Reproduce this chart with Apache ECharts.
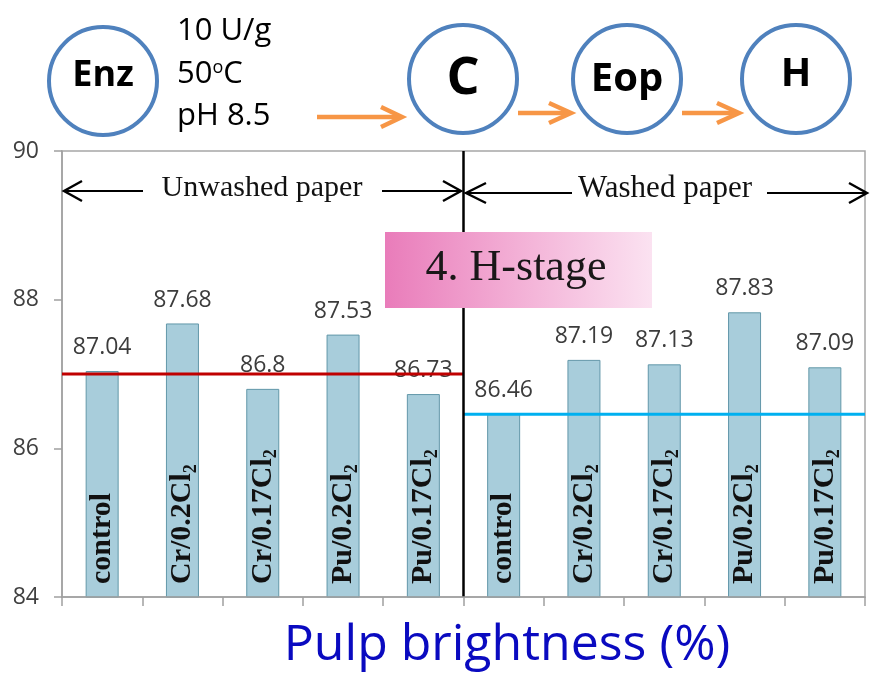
<!DOCTYPE html>
<html>
<head>
<meta charset="utf-8">
<title>Pulp brightness (%)</title>
<script src="https://cdn.jsdelivr.net/npm/echarts@6/dist/echarts.min.js"></script>
<style>
  html, body { margin: 0; padding: 0; background: #fff; }
  #chart { width: 876px; height: 678px; }
</style>
</head>
<body>
<div id="chart"></div>
<script>
// Treatments within each paper group (subscript digit split out for rich text)
const treatments = ['control', 'Cr/0.2Cl{s|2}', 'Cr/0.17Cl{s|2}', 'Pu/0.2Cl{s|2}', 'Pu/0.17Cl{s|2}'];
const groups = ['Unwashed paper', 'Washed paper'];

// H-stage pulp brightness (%)
const unwashedValues = [87.04, 87.68, 86.8, 87.53, 86.73];
const washedValues = [86.46, 87.19, 87.13, 87.83, 87.09];

// Reference levels for each group
const unwashedRef = 87.0;
const washedRef = 86.46;

const yTicks = [84, 86, 88, 90];

const categories = [];
groups.forEach(g => treatments.forEach(t => categories.push(g + ' | ' + t)));
const values = unwashedValues.concat(washedValues);
const nCat = categories.length;
const half = unwashedValues.length;

const chart = echarts.init(document.getElementById('chart'), null, { renderer: 'canvas' });

const NUM_FONT = 'Open Sans';
const SERIF = 'Liberation Serif';

function arrowHead(tipX, tipY, backX, spread, color, width) {
  return {
    type: 'polyline', z: 100,
    shape: { points: [[backX, tipY - spread], [tipX, tipY], [backX, tipY + spread]] },
    style: { stroke: color, lineWidth: width, fill: null, lineJoin: 'miter' }
  };
}
function seg(x1, y1, x2, y2, color, width) {
  return {
    type: 'line', z: 100,
    shape: { x1: x1, y1: y1, x2: x2, y2: y2 },
    style: { stroke: color, lineWidth: width }
  };
}
function stageCircle(cx, cy, label, size, ty) {
  return [
    { type: 'circle', z: 100, shape: { cx: cx, cy: cy, r: 54 },
      style: { fill: '#fff', stroke: '#4f81bd', lineWidth: 4 } },
    { type: 'text', z: 101, x: cx, y: ty,
      style: { text: label, fill: '#000', font: 'bold ' + size + 'px "' + NUM_FONT + '"',
               align: 'center', verticalAlign: 'middle' } }
  ];
}

const ORANGE = '#f79646';
const graphics = [].concat(
  stageCircle(103, 81, 'Enz', 36, 76),
  stageCircle(463, 79, 'C', 52, 79),
  stageCircle(627, 79, 'Eop', 40, 80),
  stageCircle(796, 79, 'H', 40, 75),
  [
    { type: 'text', z: 101, x: 177, y: 31,
      style: { text: '10 U/g', fill: '#000', font: '31px "' + NUM_FONT + '"', verticalAlign: 'middle' } },
    { type: 'text', z: 101, x: 177, y: 74,
      style: { text: '50{o|o}C', fill: '#000', font: '31px "' + NUM_FONT + '"', verticalAlign: 'middle',
               rich: { o: { fontSize: 18, fontFamily: NUM_FONT, verticalAlign: 'top', lineHeight: 18 } } } },
    { type: 'text', z: 101, x: 177, y: 116,
      style: { text: 'pH 8.5', fill: '#000', font: '31px "' + NUM_FONT + '"', verticalAlign: 'middle' } },

    // orange process arrows
    seg(317, 117, 398, 117, ORANGE, 4.5), arrowHead(402, 117, 381, 10, ORANGE, 4.5),
    seg(518, 113, 567, 113, ORANGE, 4.5), arrowHead(571, 113, 549, 10, ORANGE, 4.5),
    seg(682, 113, 735, 113, ORANGE, 4.5), arrowHead(739, 113, 717, 10, ORANGE, 4.5),

    // group span arrows
    seg(64, 191, 143, 191, '#000', 2.2), arrowHead(64, 191, 82, 10, '#000', 2.4),
    seg(382, 191, 461, 191, '#000', 2.2), arrowHead(461, 191, 443, 10, '#000', 2.4),
    { type: 'text', z: 101, x: 262, y: 188,
      style: { text: groups[0], fill: '#111', font: '30px "' + SERIF + '"', align: 'center', verticalAlign: 'middle' } },
    seg(466, 193, 572, 193, '#000', 2.2), arrowHead(466, 193, 486, 10, '#000', 2.4),
    seg(767, 193, 866, 193, '#000', 2.2), arrowHead(867, 193, 849, 10, '#000', 2.4),
    { type: 'text', z: 101, x: 665, y: 189,
      style: { text: groups[1], fill: '#111', font: '31px "' + SERIF + '"', align: 'center', verticalAlign: 'middle' } },

    // stage banner
    { type: 'rect', z: 100, shape: { x: 385, y: 232, width: 267, height: 76 },
      style: { fill: new echarts.graphic.LinearGradient(0, 0, 1, 0, [
        { offset: 0, color: '#e97cba' }, { offset: 0.5, color: '#f3b0d6' }, { offset: 1, color: '#fbe2f1' }]) } },
    { type: 'text', z: 101, x: 516, y: 268,
      style: { text: '4. H-stage', fill: '#1a1718', font: '44px "' + SERIF + '"', align: 'center', verticalAlign: 'middle' } },

    // axis title
    { type: 'text', z: 101, x: 507, y: 646,
      style: { text: 'Pulp brightness (%)', fill: '#0a0ac0', font: '50px "' + NUM_FONT + '"', align: 'center', verticalAlign: 'middle' } }
  ]
);

const option = {
  animation: false,
  backgroundColor: '#fff',
  grid: { left: 62, right: 11, top: 151, bottom: 81, show: true, borderColor: '#a6a6a6', borderWidth: 1.5 },
  xAxis: [
    {
      type: 'category', data: categories, z: 10,
      axisLine: { lineStyle: { color: '#a0a0a0', width: 1.5 } },
      axisTick: { show: true, length: 9, lineStyle: { color: '#a0a0a0', width: 1.5 } },
      axisLabel: {
        inside: true, rotate: 90, margin: 13, interval: 0,
        fontFamily: SERIF, fontWeight: 'bold', fontSize: 30, color: '#111', lineHeight: 36,
        formatter: (v, i) => treatments[i % half],
        rich: { s: { fontFamily: SERIF, fontWeight: 'bold', fontSize: 18, lineHeight: 18, verticalAlign: 'bottom', color: '#111' } }
      }
    },
    { type: 'value', min: 0, max: nCat, show: false }
  ],
  yAxis: {
    type: 'value', min: yTicks[0], max: yTicks[yTicks.length - 1], interval: 2,
    axisLine: { show: true, lineStyle: { color: '#a0a0a0', width: 1.5 } },
    axisTick: { show: true, length: 8, lineStyle: { color: '#a0a0a0', width: 1.5 } },
    splitLine: { show: false },
    axisLabel: { fontFamily: NUM_FONT, fontSize: 23, color: '#404040', margin: 23 }
  },
  series: [
    {
      type: 'bar', xAxisIndex: 0, data: values, barWidth: 33,
      itemStyle: { color: '#a8cddb', borderColor: '#6297a9', borderWidth: 1 },
      label: { show: true, position: 'top', distance: 12, fontFamily: NUM_FONT, fontSize: 23, color: '#3c3c3c',
               formatter: p => String(p.value) }
    },
    {
      type: 'line', xAxisIndex: 1, symbol: 'none', z: 5,
      data: [[0, unwashedRef], [half, unwashedRef]],
      lineStyle: { color: '#c00000', width: 3 }
    },
    {
      type: 'line', xAxisIndex: 1, symbol: 'none', z: 5,
      data: [[half, washedRef], [nCat, washedRef]],
      lineStyle: { color: '#00b0f0', width: 3 }
    },
    {
      type: 'line', xAxisIndex: 1, symbol: 'none', z: 6,
      data: [[half, yTicks[0]], [half, yTicks[yTicks.length - 1]]],
      lineStyle: { color: '#000', width: 2.5 }
    }
  ],
  graphic: { elements: graphics }
};

chart.setOption(option);
</script>
</body>
</html>
